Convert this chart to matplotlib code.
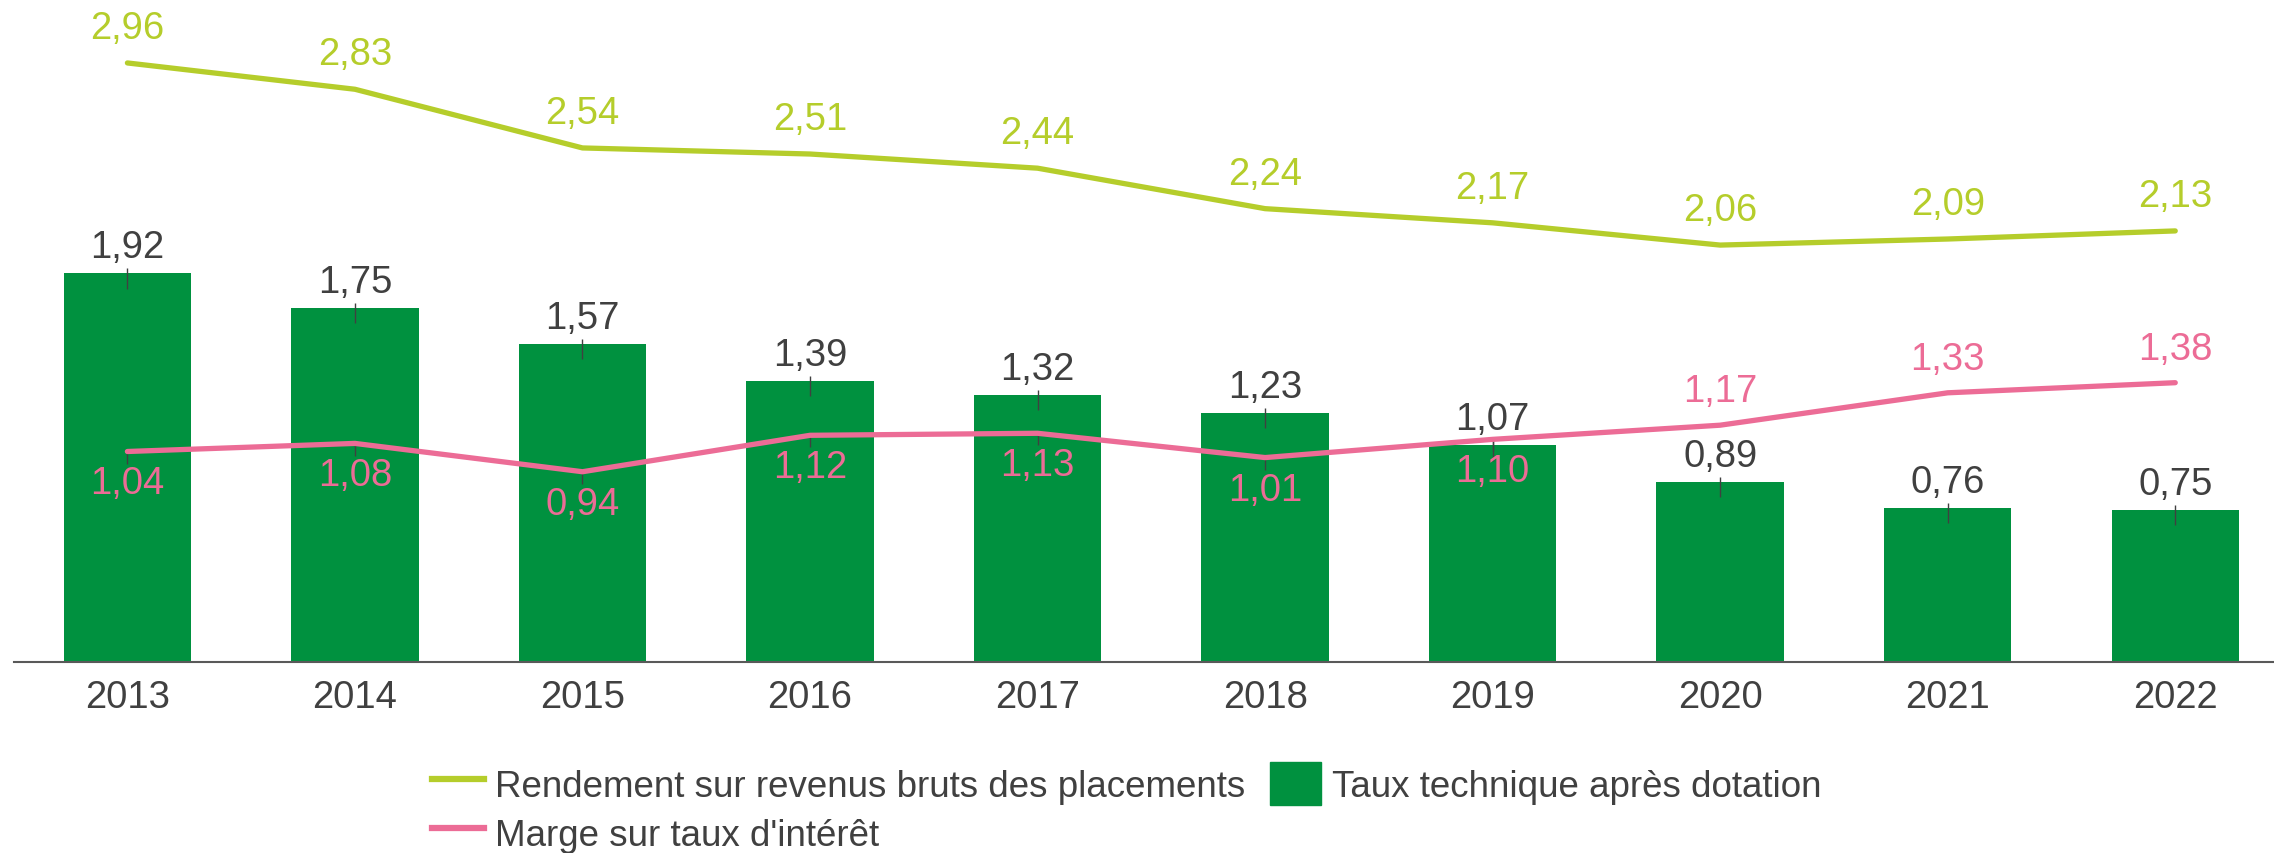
import matplotlib.pyplot as plt
import numpy as np

# Données
annees = ['2013', '2014', '2015', '2016', '2017', '2018', '2019', '2020', '2021', '2022']
rendement = [2.96, 2.83, 2.54, 2.51, 2.44, 2.24, 2.17, 2.06, 2.09, 2.13]
taux_technique = [1.92, 1.75, 1.57, 1.39, 1.32, 1.23, 1.07, 0.89, 0.76, 0.75]
marge = [1.04, 1.08, 0.94, 1.12, 1.13, 1.01, 1.10, 1.17, 1.33, 1.38]

# Couleurs
VERT_LIME = '#B5CD2B'
VERT = '#00913F'
ROSE = '#EC6C96'
GRIS = '#404040'

plt.rcParams['font.family'] = ['Liberation Sans', 'DejaVu Sans']
FS = 27.5

fig = plt.figure(figsize=(22.74, 8.54), dpi=100)
ax = fig.add_axes([0.006, 0.2237, 0.994, 0.7763])

x = np.arange(len(annees))

ax.bar(x, taux_technique, width=0.56, color=VERT, zorder=1)
ax.plot(x, rendement, color=VERT_LIME, lw=3.8, solid_capstyle='round', zorder=3)
ax.plot(x, marge, color=ROSE, lw=3.8, solid_capstyle='round', zorder=3)

# petits traits de rappel des étiquettes
ax.vlines(x, [v - 0.075 for v in taux_technique], [v + 0.025 for v in taux_technique],
          color=GRIS, lw=1, zorder=2)
for i, v in enumerate(marge):
    if i < 7:
        ax.vlines(i, v - 0.06, v, color=GRIS, lw=1, zorder=2)

# Étiquettes
for i in x:
    ax.annotate(f"{rendement[i]:.2f}".replace('.', ','), (i, rendement[i]),
                xytext=(0, 35), textcoords='offset pixels', ha='center', va='center',
                color=VERT_LIME, fontsize=FS)
    ax.annotate(f"{taux_technique[i]:.2f}".replace('.', ','), (i, taux_technique[i]),
                xytext=(0, 26), textcoords='offset pixels', ha='center', va='center',
                color=GRIS, fontsize=FS)
    dy = -32 if i < 7 else 34
    ax.annotate(f"{marge[i]:.2f}".replace('.', ','), (i, marge[i]),
                xytext=(0, dy), textcoords='offset pixels', ha='center', va='center',
                color=ROSE, fontsize=FS, zorder=4)

ax.set_xlim(-0.5, 9.434)
ax.set_ylim(0, 3.276)
ax.set_xticks(x)
ax.set_xticklabels(annees, fontsize=FS, color=GRIS)
ax.tick_params(axis='x', length=0, pad=12)
ax.set_yticks([])
for s in ['top', 'right', 'left']:
    ax.spines[s].set_visible(False)
ax.spines['bottom'].set_color('#595959')
ax.spines['bottom'].set_linewidth(1.5)

# Légende
h_rend = plt.Line2D([], [], color=VERT_LIME, lw=4.5)
h_marge = plt.Line2D([], [], color=ROSE, lw=4.5)
h_taux = plt.Rectangle((0, 0), 1, 1, color=VERT)
leg = fig.legend([h_rend, h_marge, h_taux],
                 ['Rendement sur revenus bruts des placements', "Marge sur taux d'intérêt",
                  'Taux technique après dotation'],
                 ncol=2, loc='upper left', bbox_to_anchor=(0.19, 0.106),
                 frameon=False, fontsize=26.5, handlelength=1.4, handleheight=1.4,
                 handletextpad=0.3, columnspacing=0.68, labelspacing=0.17,
                 borderaxespad=0, borderpad=0)
for t in leg.get_texts():
    t.set_color(GRIS)

fig.savefig('out.png', dpi=100)
